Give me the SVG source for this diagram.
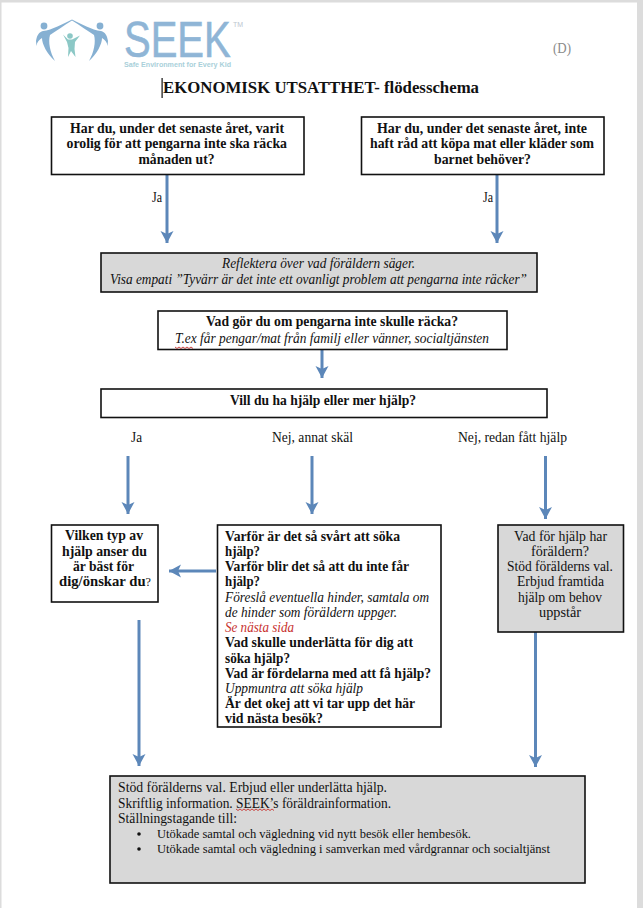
<svg xmlns="http://www.w3.org/2000/svg" width="643" height="908" viewBox="0 0 643 908">
<style>
text{font-family:"Liberation Serif","Times New Roman",serif;font-size:14.5px;fill:#111}
.b{font-weight:bold}
.i{font-style:italic}
.s{font-size:13.5px}
.box{fill:#fff;stroke:#111;stroke-width:1.6}
.gray{fill:#d8d8d8;stroke:#111;stroke-width:1.6}
.conn{fill:none;stroke:#5c87b9;stroke-width:3;marker-end:url(#arr)}
.sq{fill:none;stroke:#c8322f;stroke-width:.9}
.blue{fill:#86b0d2}
.teal{fill:#8cc8c6}
.sans{font-family:"Liberation Sans",Arial,sans-serif}
</style>
<defs>
<marker id="arr" markerUnits="userSpaceOnUse" markerWidth="16" markerHeight="16" refX="12" refY="7" orient="auto">
<path d="M0 0.5L12 7L0 13.5L3 7Z" fill="#5c87b9"/>
</marker>
<path id="person" d="M36 41C37 35 39 32 43 31C52 30 63 24 72 19.500L72 20.500C64 25.500 56 31 50 35C48 42 50 52 55 61C47 54 42 44 42 38C39 40 37 42 36.500 46Z"/>
</defs>
<rect width="643" height="908" fill="#fff"/>
<g id="page-edge" fill="#dcdcdc">
<rect x="0" y="0" width="643" height="2.500"/>
<rect x="0" y="0" width="1.500" height="908"/>
<rect x="637" y="0" width="6" height="908"/>
</g>
<g id="logo">
<use href="#person" class="blue"/>
<circle class="blue" cx="44" cy="26" r="3.400"/>
<use href="#person" class="blue" transform="translate(144 0) scale(-1 1)"/>
<circle class="blue" cx="100" cy="26" r="3.400"/>
<path class="teal" d="M63 34.500L68 39.500L72 39.500L80 35.500L75 42L74.500 49L75.500 57L71 51L68 57L68.500 48L67 42Z"/>
<circle class="teal" cx="70" cy="36" r="2.800"/>
<text class="sans" x="124" y="57" style="font-size:40px;fill:#8fb5d6;stroke:#8fb5d6;stroke-width:.5" transform="translate(124 57) scale(1 1.250) translate(-124 -57)">SEEK</text>
<text class="sans" x="233" y="27" style="font-size:7px;fill:#bcc6cf">TM</text>
<text class="sans" x="124" y="67" style="font-size:7.200px;font-weight:bold;fill:#a9d0da" textLength="107" lengthAdjust="spacingAndGlyphs">Safe Environment for Every Kid</text>
</g>
<g id="header">
<text x="553" y="53" style="fill:#8a8a8a" textLength="18" lengthAdjust="spacingAndGlyphs">(D)</text>
<rect x="161.500" y="78" width="1.200" height="20" fill="#111"/>
<text class="b" x="163" y="93" style="font-size:17.500px" textLength="316" lengthAdjust="spacingAndGlyphs">EKONOMISK UTSATTHET- flödesschema</text>
</g>
<g id="connectors">
<path class="conn" d="M167 175V243"/>
<path class="conn" d="M497 175V243"/>
<path class="conn" d="M322 349V378"/>
<path class="conn" d="M128 456V514"/>
<path class="conn" d="M312 456V514"/>
<path class="conn" d="M545.500 456V519"/>
<path class="conn" d="M216 571H169"/>
<path class="conn" d="M139 620V766"/>
<path class="conn" d="M535.500 632V767"/>
</g>
<g id="labels">
<text x="152" y="202" textLength="10" lengthAdjust="spacingAndGlyphs">Ja</text>
<text x="483" y="202" textLength="10" lengthAdjust="spacingAndGlyphs">Ja</text>
<text x="131" y="442" textLength="11" lengthAdjust="spacingAndGlyphs">Ja</text>
<text x="272" y="442" textLength="81" lengthAdjust="spacingAndGlyphs">Nej, annat skäl</text>
<text x="458" y="442" textLength="109" lengthAdjust="spacingAndGlyphs">Nej, redan fått hjälp</text>
</g>
<g id="q1">
<rect class="box" x="51.500" y="117" width="252.500" height="57.500"/>
<text class="b" x="70" y="132.500" textLength="214" lengthAdjust="spacingAndGlyphs">Har du, under det senaste året, varit</text>
<text class="b" x="66.500" y="148" textLength="220.500" lengthAdjust="spacingAndGlyphs">orolig för att pengarna inte ska räcka</text>
<text class="b" x="138.500" y="163.500" textLength="76" lengthAdjust="spacingAndGlyphs">månaden ut?</text>
</g>
<g id="q2">
<rect class="box" x="361.500" y="117" width="242.500" height="57.500"/>
<text class="b" x="377" y="132.500" textLength="210" lengthAdjust="spacingAndGlyphs">Har du, under det senaste året, inte</text>
<text class="b" x="370" y="148" textLength="224" lengthAdjust="spacingAndGlyphs">haft råd att köpa mat eller kläder som</text>
<text class="b" x="434" y="163.500" textLength="97" lengthAdjust="spacingAndGlyphs">barnet behöver?</text>
</g>
<g id="reflect">
<rect class="gray" x="101" y="253" width="436" height="39"/>
<text class="i" x="222" y="268" textLength="193" lengthAdjust="spacingAndGlyphs">Reflektera över vad föräldern säger.</text>
<text class="i" x="110" y="284" textLength="417" lengthAdjust="spacingAndGlyphs">Visa empati ”Tyvärr är det inte ett ovanligt problem att pengarna inte räcker”</text>
</g>
<g id="q3">
<rect class="box" x="158" y="311" width="349" height="38.500"/>
<text class="b" x="206" y="326" textLength="252" lengthAdjust="spacingAndGlyphs">Vad gör du om pengarna inte skulle räcka?</text>
<text class="i" x="175" y="343" textLength="314" lengthAdjust="spacingAndGlyphs">T.ex får pengar/mat från familj eller vänner, socialtjänsten</text>
<path class="sq" d="M175 347l2 1.500 2-1.500 2 1.500 2-1.500 2 1.500 2-1.500 2 1.500 2-1.500 2 1.500"/>
</g>
<g id="q4">
<rect class="box" x="101" y="389" width="446" height="28.500"/>
<text class="b" x="230" y="405" textLength="186" lengthAdjust="spacingAndGlyphs">Vill du ha hjälp eller mer hjälp?</text>
</g>
<g id="help-type">
<rect class="box" x="51.500" y="525" width="106.500" height="77"/>
<text class="b" x="65" y="540" textLength="78" lengthAdjust="spacingAndGlyphs">Vilken typ av</text>
<text class="b" x="62" y="556" textLength="85" lengthAdjust="spacingAndGlyphs">hjälp anser du</text>
<text class="b" x="73" y="571" textLength="61" lengthAdjust="spacingAndGlyphs">är bäst för</text>
<text class="b" x="59" y="586" textLength="92" lengthAdjust="spacingAndGlyphs">dig/önskar du<tspan style="font-weight:normal;font-size:12px">?</tspan></text>
</g>
<g id="why">
<rect class="box" x="217.500" y="525" width="223.500" height="202"/>
<text class="b" x="225" y="541" textLength="175" lengthAdjust="spacingAndGlyphs">Varför är det så svårt att söka</text>
<text class="b" x="225" y="556" textLength="35" lengthAdjust="spacingAndGlyphs">hjälp?</text>
<text class="b" x="225" y="571" textLength="184" lengthAdjust="spacingAndGlyphs">Varför blir det så att du inte får</text>
<text class="b" x="225" y="586" textLength="35" lengthAdjust="spacingAndGlyphs">hjälp?</text>
<text class="i" x="225" y="602" textLength="204" lengthAdjust="spacingAndGlyphs">Föreslå eventuella hinder, samtala om</text>
<text class="i" x="225" y="617" textLength="172" lengthAdjust="spacingAndGlyphs">de hinder som föräldern uppger.</text>
<text class="i" x="225" y="632" style="fill:#c8322f" textLength="69" lengthAdjust="spacingAndGlyphs">Se nästa sida</text>
<text class="b" x="225" y="647" textLength="188" lengthAdjust="spacingAndGlyphs">Vad skulle underlätta för dig att</text>
<text class="b" x="225" y="663" textLength="65" lengthAdjust="spacingAndGlyphs">söka hjälp?</text>
<text class="b" x="225" y="678" textLength="206" lengthAdjust="spacingAndGlyphs">Vad är fördelarna med att få hjälp?</text>
<text class="i" x="225" y="693" textLength="138" lengthAdjust="spacingAndGlyphs">Uppmuntra att söka hjälp</text>
<text class="b" x="225" y="708" textLength="190" lengthAdjust="spacingAndGlyphs">Är det okej att vi tar upp det här</text>
<text class="b" x="225" y="723" textLength="98" lengthAdjust="spacingAndGlyphs">vid nästa besök?</text>
</g>
<g id="already-help">
<rect class="gray" x="498" y="525" width="125.500" height="107"/>
<text x="514" y="541" textLength="93" lengthAdjust="spacingAndGlyphs">Vad för hjälp har</text>
<text x="531" y="556" textLength="58" lengthAdjust="spacingAndGlyphs">föräldern?</text>
<text x="507" y="571" textLength="106" lengthAdjust="spacingAndGlyphs">Stöd förälderns val.</text>
<text x="517" y="586" textLength="87" lengthAdjust="spacingAndGlyphs">Erbjud framtida</text>
<text x="518" y="602" textLength="84" lengthAdjust="spacingAndGlyphs">hjälp om behov</text>
<text x="539" y="617" textLength="42" lengthAdjust="spacingAndGlyphs">uppstår</text>
</g>
<g id="support">
<rect class="gray" x="110" y="776" width="475" height="107"/>
<text x="118" y="792" textLength="269" lengthAdjust="spacingAndGlyphs">Stöd förälderns val. Erbjud eller underlätta hjälp.</text>
<text x="118" y="807.500" textLength="273" lengthAdjust="spacingAndGlyphs">Skriftlig information. SEEK’s föräldrainformation.</text>
<path class="sq" d="M236 809l2 1.500 2-1.500 2 1.500 2-1.500 2 1.500 2-1.500 2 1.500 2-1.500 2 1.500 2-1.500 2 1.500 2-1.500 2 1.500 2-1.500 2 1.500 2-1.500 2 1.500 2-1.500 2 1.500"/>
<text x="118" y="823" textLength="119" lengthAdjust="spacingAndGlyphs">Ställningstagande till:</text>
<circle cx="139" cy="834" r="1.800" fill="#111"/>
<circle cx="139" cy="849" r="1.800" fill="#111"/>
<text class="s" x="157" y="838" textLength="314" lengthAdjust="spacingAndGlyphs">Utökade samtal och vägledning vid nytt besök eller hembesök.</text>
<text class="s" x="157" y="853" textLength="393" lengthAdjust="spacingAndGlyphs">Utökade samtal och vägledning i samverkan med vårdgrannar och socialtjänst</text>
</g>
</svg>
